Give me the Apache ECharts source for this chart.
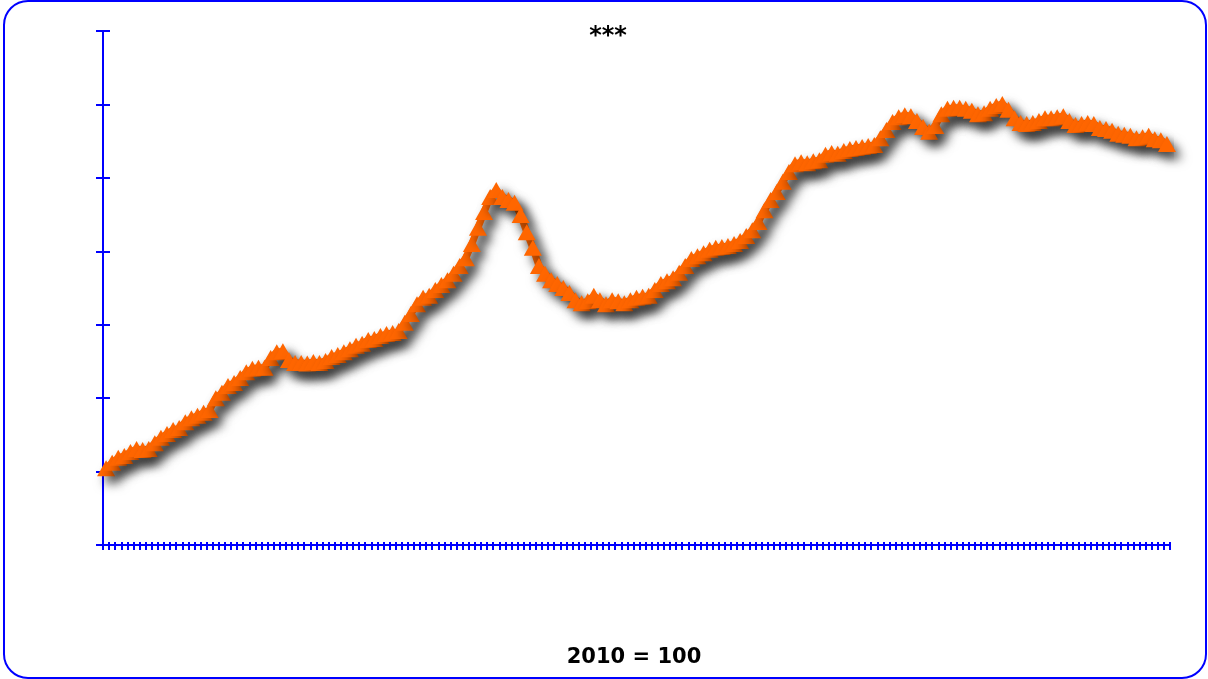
<!DOCTYPE html>
<html>
<head>
<meta charset="utf-8">
<script src="https://cdn.jsdelivr.net/npm/echarts@6/dist/echarts.min.js"></script>
<style>
html,body{margin:0;padding:0;background:#fff;}
#chart{width:1208px;height:679px;}
</style>
</head>
<body>
<div id="chart"></div>
<script>
// Monthly index values (2010 = 100)
const values = [
35.7,36.8,37.8,38.2,39.0,39.6,39.4,39.6,40.8,41.9,42.7,43.5,
43.9,45.1,45.9,46.4,47.0,47.6,50.0,51.1,52.5,53.1,54.1,55.3,
56.0,56.2,56.2,58.2,59.4,59.6,57.8,57.2,57.2,57.1,57.4,57.2,
57.6,58.4,58.8,59.4,60.0,60.7,61.1,61.9,62.1,62.7,63.1,63.3,
63.7,65.4,67.2,69.2,70.5,70.9,72.1,73.1,74.1,75.4,77.0,78.6,
81.5,84.8,88.0,91.1,92.5,91.1,90.5,89.9,87.4,83.9,80.7,77.0,
75.4,74.1,73.3,72.5,71.5,70.0,69.4,69.8,70.9,70.0,69.2,70.0,
69.8,69.4,70.0,70.5,70.7,70.9,72.1,73.3,73.9,74.5,75.6,77.0,
78.4,79.0,79.6,80.3,80.7,80.9,81.1,81.5,82.1,83.1,84.3,86.0,
88.4,90.5,92.1,94.2,96.2,97.8,98.2,98.0,98.4,98.6,99.7,100.1,
99.9,100.5,100.9,101.1,101.3,101.5,101.7,103.1,104.8,106.4,107.4,107.8,
107.6,106.6,105.4,104.4,105.6,108.0,109.1,109.3,109.3,109.1,108.7,108.0,
108.2,109.1,109.7,110.1,108.9,107.2,106.2,106.0,106.2,106.6,107.2,107.2,
107.4,107.6,106.6,105.8,106.0,106.2,106.0,105.2,105.0,104.6,104.0,103.8,
103.6,103.1,103.3,103.6,102.9,102.7,101.9
];
const startYear = 2000;
const categories = [];
for (let i = 0; i < values.length; i++) {
  const y = startYear + Math.floor(i / 12);
  const m = (i % 12) + 1;
  categories.push(y + '-' + (m < 10 ? '0' + m : m));
}
const titleText = '***';
const baseText = '2010 = 100';
const yMin = 20, yMax = 125, yStep = 15;

const BLUE = '#0000ff';
const ORANGE = '#ff6600';
const SHADOW = {shadowColor: 'rgba(0,0,0,0.6)', shadowBlur: 11, shadowOffsetX: 6, shadowOffsetY: 7};
const chart = echarts.init(document.getElementById('chart'), null, {renderer: 'canvas'});
chart.setOption({
  animation: false,
  backgroundColor: '#ffffff',
  graphic: [
    {type: 'rect', shape: {x: 4, y: 1, width: 1202, height: 677, r: 24},
     style: {fill: 'none', stroke: BLUE, lineWidth: 2}, z: 0},
    {type: 'text', x: 608, y: 37,
     style: {text: titleText, fontFamily: 'DejaVu Sans', fontWeight: 'bold', fontSize: 24,
             fill: '#000', align: 'center', verticalAlign: 'middle'}},
    {type: 'text', x: 634, y: 658,
     style: {text: baseText, fontFamily: 'DejaVu Sans', fontWeight: 'bold', fontSize: 21,
             fill: '#000', align: 'center', verticalAlign: 'middle'}}
  ],
  grid: {left: 103, right: 38, top: 31, bottom: 134},
  xAxis: [
    {type: 'category', data: categories, boundaryGap: true,
     axisLine: {lineStyle: {color: BLUE, width: 2}},
     axisTick: {show: true, interval: 0, length: 5, lineStyle: {color: BLUE, width: 2}},
     axisLabel: {show: false}, splitLine: {show: false}},
    {type: 'category', data: categories, boundaryGap: true, position: 'bottom',
     axisLine: {show: false},
     axisTick: {show: true, inside: true, interval: 0, length: 3, lineStyle: {color: BLUE, width: 2}},
     axisLabel: {show: false}, splitLine: {show: false}}
  ],
  yAxis: [
    {type: 'value', min: yMin, max: yMax, interval: yStep,
     axisLine: {show: true, lineStyle: {color: BLUE, width: 2}},
     axisTick: {show: true, length: 7, lineStyle: {color: BLUE, width: 2}},
     axisLabel: {show: false}, splitLine: {show: false}},
    {type: 'value', min: yMin, max: yMax, interval: yStep, position: 'left',
     axisLine: {show: false},
     axisTick: {show: true, inside: true, length: 7, lineStyle: {color: BLUE, width: 2}},
     axisLabel: {show: false}, splitLine: {show: false}}
  ],
  series: [{
    type: 'line',
    data: values,
    xAxisIndex: 0, yAxisIndex: 0,
    symbol: 'triangle',
    symbolSize: [18, 16],
    showAllSymbol: true,
    lineStyle: Object.assign({color: ORANGE, width: 7}, SHADOW),
    itemStyle: Object.assign({color: ORANGE, borderWidth: 0}, SHADOW)
  }]
});
</script>
</body>
</html>
